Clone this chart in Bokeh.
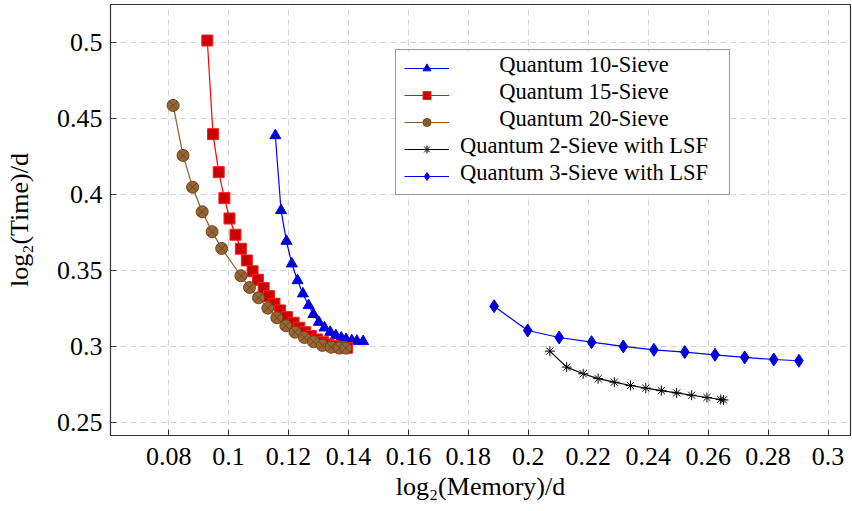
from bokeh.plotting import figure
from bokeh.models import Range1d, FixedTicker, Legend, LegendItem, Label, BoxAnnotation
from bokeh.embed import file_html
from bokeh.resources import INLINE

# Quantum 10-Sieve
q10_mem = [0.1156, 0.1175, 0.1193, 0.1211, 0.1230, 0.1248, 0.1267, 0.1283, 0.1301,
           0.1320, 0.1339, 0.1358, 0.1376, 0.1392, 0.1411, 0.1428, 0.1449]
q10_time = [0.4388, 0.3895, 0.3693, 0.3544, 0.3434, 0.3347, 0.3270, 0.3211, 0.3160,
            0.3123, 0.3094, 0.3072, 0.3057, 0.3046, 0.3039, 0.3035, 0.3033]

# Quantum 15-Sieve
q15_mem = [0.0929, 0.0948, 0.0967, 0.0986, 0.1003, 0.1023, 0.1041, 0.1061, 0.1080,
           0.1098, 0.1117, 0.1135, 0.1153, 0.1172, 0.1195, 0.1217, 0.1236, 0.1256,
           0.1275, 0.1295, 0.1315, 0.1333, 0.1352, 0.1372, 0.1395]
q15_time = [0.5013, 0.4397, 0.4147, 0.3976, 0.3842, 0.3735, 0.3643, 0.3566, 0.3495,
            0.3439, 0.3384, 0.3331, 0.3281, 0.3237, 0.3193, 0.3156, 0.3123, 0.3094,
            0.3068, 0.3046, 0.3028, 0.3013, 0.3002, 0.2995, 0.2991]

# Quantum 20-Sieve
q20_mem = [0.0815, 0.0848, 0.0880, 0.0912, 0.0945, 0.0977, 0.1041, 0.1070, 0.1100,
           0.1131, 0.1161, 0.1191, 0.1222, 0.1253, 0.1283, 0.1313, 0.1342, 0.1370,
           0.1391]
q20_time = [0.4586, 0.4257, 0.4048, 0.3886, 0.3755, 0.3645, 0.3465, 0.3388, 0.3320,
            0.3252, 0.3189, 0.3136, 0.3094, 0.3059, 0.3031, 0.3007, 0.2995, 0.2989,
            0.2989]

# Quantum 2-Sieve with LSF
lsf2_mem = [0.2072, 0.2128, 0.2183, 0.2233, 0.2287, 0.2341, 0.2392, 0.2444, 0.2495,
            0.2545, 0.2596, 0.2642, 0.2651]
lsf2_time = [0.2969, 0.2864, 0.2820, 0.2788, 0.2765, 0.2743, 0.2726, 0.2709, 0.2694,
             0.2679, 0.2664, 0.2651, 0.2648]

# Quantum 3-Sieve with LSF
lsf3_mem = [0.1886, 0.1998, 0.2103, 0.2211, 0.2317, 0.2419, 0.2522, 0.2623, 0.2722,
            0.2819, 0.2903]
lsf3_time = [0.3265, 0.3105, 0.3059, 0.3028, 0.3000, 0.2978, 0.2963, 0.2945, 0.2928,
             0.2914, 0.2906]

series_names = ["Quantum 10-Sieve", "Quantum 15-Sieve", "Quantum 20-Sieve",
                "Quantum 2-Sieve with LSF", "Quantum 3-Sieve with LSF"]

x_ticks = [0.08, 0.1, 0.12, 0.14, 0.16, 0.18, 0.2, 0.22, 0.24, 0.26, 0.28, 0.3]
x_tick_labels = ["0.08", "0.1", "0.12", "0.14", "0.16", "0.18", "0.2", "0.22",
                 "0.24", "0.26", "0.28", "0.3"]
y_ticks = [0.25, 0.3, 0.35, 0.4, 0.45, 0.5]
y_tick_labels = ["0.25", "0.3", "0.35", "0.4", "0.45", "0.5"]

FONT = "Liberation Serif"
X0, X1 = 0.0606, 0.3075
Y0, Y1 = 0.2414, 0.525
W, H = 852, 511
BORDER_L, BORDER_R, BORDER_T, BORDER_B = 110, 2, 4, 76
FRAME_W = W - BORDER_L - BORDER_R
FRAME_H = H - BORDER_T - BORDER_B

p = figure(width=W, height=H, output_backend="svg", toolbar_location=None,
           x_range=Range1d(X0, X1), y_range=Range1d(Y0, Y1),
           min_border_left=BORDER_L, min_border_right=BORDER_R,
           min_border_top=BORDER_T, min_border_bottom=BORDER_B)
p.background_fill_color = "white"
p.border_fill_color = "white"
p.outline_line_color = "#333333"
p.outline_line_width = 1.2

# axes
p.xaxis.ticker = FixedTicker(ticks=x_ticks)
p.yaxis.ticker = FixedTicker(ticks=y_ticks)
p.xaxis.major_label_overrides = dict(zip(x_ticks, x_tick_labels))
p.yaxis.major_label_overrides = dict(zip(y_ticks, y_tick_labels))
for ax in (p.xaxis, p.yaxis):
    ax.major_tick_in = 6
    ax.major_tick_out = 0
    ax.minor_tick_line_color = None
    ax.axis_line_color = "#333333"
    ax.major_tick_line_color = "#333333"
    ax.major_label_text_font = FONT
    ax.major_label_text_font_size = "26px"
    ax.major_label_text_color = "black"
    ax.axis_label_text_font = FONT
    ax.axis_label_text_font_size = "26px"
    ax.axis_label_text_font_style = "normal"
    ax.axis_label_text_color = "black"
p.xaxis.axis_label = "log\u2082(Memory)/d"
p.yaxis.axis_label = "log\u2082(Time)/d"
p.xaxis.major_label_standoff = 12
p.xaxis.axis_label_standoff = 4
p.yaxis.major_label_standoff = 8
p.yaxis.axis_label_standoff = 20

p.grid.grid_line_color = "#d5d5d5"
p.grid.grid_line_dash = "6 4"
p.grid.grid_line_width = 1

LEG_X, LEG_Y = 285, 240          # legend bottom-left corner, frame pixels
PAD, ROW, GAP = 8, 20, 7
GLYPH_W, STANDOFF, LABEL_W = 45, 7, 265
n = len(series_names)
leg_w = 2 * PAD + GLYPH_W + STANDOFF + LABEL_W
leg_h = 2 * PAD + n * ROW + (n - 1) * GAP


def frame_to_data(fx, fy):
    """Frame pixel offsets (from bottom-left) to data coordinates."""
    return X0 + fx / FRAME_W * (X1 - X0), Y0 + fy / FRAME_H * (Y1 - Y0)


# white panel behind the legend, above the grid
bl = frame_to_data(LEG_X, LEG_Y)
tr = frame_to_data(LEG_X + leg_w, LEG_Y + leg_h)
p.add_layout(BoxAnnotation(left=bl[0], right=tr[0], bottom=bl[1], top=tr[1],
                           fill_color="white", fill_alpha=1, line_color=None,
                           level="glyph"))

# series
r10l = p.line(q10_mem, q10_time, line_color="#0000ff", line_width=1.2)
r10m = p.scatter(q10_mem, q10_time, marker="triangle", size=11,
                 fill_color="#0000cc", line_color="#0000ff", line_width=1)

r15l = p.line(q15_mem, q15_time, line_color="#ff0000", line_width=1.2)
r15m = p.scatter(q15_mem, q15_time, marker="square", size=11,
                 fill_color="#cc0000", line_color="#ff2020", line_width=1)

r20l = p.line(q20_mem, q20_time, line_color="#8b5a2b", line_width=1.2)
r20m = p.scatter(q20_mem, q20_time, marker="circle_x", size=12,
                 fill_color="#996633", line_color="#6b4520", line_width=1)

r2l = p.line(lsf2_mem, lsf2_time, line_color="black", line_width=1.2)
r2m = p.scatter(lsf2_mem, lsf2_time, marker="asterisk", size=10,
                line_color="black", line_width=1)

r3l = p.line(lsf3_mem, lsf3_time, line_color="#0000ff", line_width=1.2)
r3m = p.scatter(lsf3_mem, lsf3_time, marker="diamond", size=13,
                fill_color="#0000cc", line_color="#0000ff", line_width=1)

# legend: glyph samples and frame; entry texts are centred in their column
renderer_pairs = [(r10l, r10m), (r15l, r15m), (r20l, r20m), (r2l, r2m), (r3l, r3m)]
legend = Legend(items=[LegendItem(label=" ", renderers=list(pair))
                       for pair in renderer_pairs])
legend.location = (LEG_X, LEG_Y)
legend.label_text_font = FONT
legend.label_text_font_size = "22px"
legend.border_line_color = "#333333"
legend.border_line_width = 1.2
legend.background_fill_alpha = 0
legend.glyph_width = GLYPH_W
legend.glyph_height = ROW
legend.label_height = ROW
legend.label_standoff = STANDOFF
legend.spacing = GAP
legend.padding = PAD
legend.margin = 0
legend.label_width = LABEL_W
p.add_layout(legend)

text_fx = LEG_X + PAD + GLYPH_W + STANDOFF + LABEL_W / 2 - 4
for i, name in enumerate(series_names):
    fy = LEG_Y + leg_h - PAD - ROW / 2 - i * (ROW + GAP) + 5
    tx, ty = frame_to_data(text_fx, fy)
    p.add_layout(Label(x=tx, y=ty, text=name,
                       text_align="center", text_baseline="middle",
                       text_font=FONT, text_font_size="22.5px", text_color="black"))

open("out.html", "w").write(file_html(p, INLINE))
